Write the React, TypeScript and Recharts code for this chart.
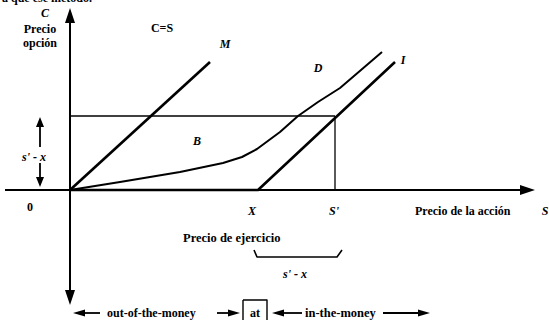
import React from 'react';
import { ComposedChart, Line, Scatter, XAxis, YAxis } from 'recharts';

// Units: origin at the axes crossing
const X_STRIKE = 18.8;
const S_PRIME = 26.5;
const C_LEVEL = 7.4;

const lineM = [ { x: 0, y: 0 }, { x: 14, y: 12.8 } ];
const lineI = [ { x: 0, y: 0 }, { x: X_STRIKE, y: 0 }, { x: 32.5, y: 12.8 } ];
const curveD = [
  { x: 0, y: 0 }, { x: 5, y: 0.8 }, { x: 11, y: 1.8 }, { x: 15.3, y: 2.7 },
  { x: 17.2, y: 3.3 }, { x: 18.7, y: 4.1 }, { x: 21, y: 5.8 }, { x: 22.8, y: 7.4 },
  { x: 24.8, y: 8.8 }, { x: 27, y: 10.2 }, { x: 31.2, y: 13.8 },
];
const hLine = [ { x: 0, y: C_LEVEL }, { x: S_PRIME, y: C_LEVEL } ];
const vLine = [ { x: S_PRIME, y: 0 }, { x: S_PRIME, y: C_LEVEL } ];
const axisV = [ { x: 0, y: -11 }, { x: 0, y: 17.3 } ];
const axisH = [ { x: -6.5, y: 0 }, { x: 45.5, y: 0 } ];
const leftUp = [ { x: -3, y: 4.3 }, { x: -3, y: 6.5 } ];
const leftDown = [ { x: -3, y: 2.7 }, { x: -3, y: 1.0 } ];
const bracket = [ { x: 18.4, y: -6.0 }, { x: 18.7, y: -6.7 }, { x: 26.7, y: -6.7 }, { x: 27.2, y: -6.0 } ];
const arrow1 = [ { x: 1.0, y: -12.3 }, { x: 3.0, y: -12.3 } ];
const arrow2 = [ { x: 14.7, y: -12.3 }, { x: 16.2, y: -12.3 } ];
const arrow3 = [ { x: 20.8, y: -12.3 }, { x: 23.2, y: -12.3 } ];
const arrow4 = [ { x: 31.3, y: -12.3 }, { x: 35.2, y: -12.3 } ];
const atBox = [ { x: 17.3, y: -11.0 }, { x: 19.7, y: -11.0 }, { x: 19.7, y: -13.4 }, { x: 17.3, y: -13.4 }, { x: 17.3, y: -11.0 } ];

const heads = [
  { x: 0, y: 18.2, dir: 'up', len: 15, w: 5 },
  { x: 0, y: -11.5, dir: 'down', len: 15, w: 5 },
  { x: 46.5, y: 0, dir: 'right', len: 15, w: 5 },
  { x: -3, y: 7.3, dir: 'up', len: 10, w: 4 },
  { x: -3, y: 0.3, dir: 'down', len: 10, w: 4 },
  { x: 0.3, y: -12.3, dir: 'left', len: 12, w: 3.5 },
  { x: 17.0, y: -12.3, dir: 'right', len: 12, w: 3.5 },
  { x: 20.2, y: -12.3, dir: 'left', len: 12, w: 3.5 },
  { x: 36.0, y: -12.3, dir: 'right', len: 12, w: 3.5 },
];

const labels = [
  { x: -6.8, y: 18.8, text: 'a que ese método.', anchor: 'start', size: 12, italic: false },
  { x: -2.5, y: 17.3, text: 'C', anchor: 'middle', size: 12, italic: true },
  { x: -3.0, y: 15.7, text: 'Precio', anchor: 'middle', size: 12, italic: false },
  { x: -3.0, y: 14.3, text: 'opción', anchor: 'middle', size: 12, italic: false },
  { x: 9.2, y: 15.8, text: 'C=S', anchor: 'middle', size: 12, italic: false },
  { x: 15.5, y: 14.2, text: 'M', anchor: 'middle', size: 12, italic: true },
  { x: 24.8, y: 11.8, text: 'D', anchor: 'middle', size: 12, italic: true },
  { x: 33.3, y: 12.6, text: 'I', anchor: 'middle', size: 12, italic: true },
  { x: 12.7, y: 4.5, text: 'B', anchor: 'middle', size: 12, italic: true },
  { x: -4.0, y: -2.1, text: '0', anchor: 'middle', size: 12, italic: false },
  { x: -3.6, y: 2.9, text: "s' - x", anchor: 'middle', size: 12, italic: true },
  { x: 18.2, y: -2.5, text: 'X', anchor: 'middle', size: 12, italic: true },
  { x: 26.4, y: -2.5, text: "S'", anchor: 'middle', size: 12, italic: true },
  { x: 34.5, y: -2.5, text: 'Precio de la acción', anchor: 'start', size: 12, italic: false },
  { x: 47.5, y: -2.5, text: 'S', anchor: 'middle', size: 12, italic: true },
  { x: 11.3, y: -5.2, text: 'Precio de ejercicio', anchor: 'start', size: 12.5, italic: false },
  { x: 22.5, y: -8.8, text: "s' - x", anchor: 'middle', size: 12, italic: true },
  { x: 3.7, y: -12.7, text: 'out-of-the-money', anchor: 'start', size: 12, italic: false },
  { x: 18.5, y: -12.7, text: 'at', anchor: 'middle', size: 12, italic: false },
  { x: 23.5, y: -12.7, text: 'in-the-money', anchor: 'start', size: 12.5, italic: false },
];

const FONT = '"Liberation Serif", "DejaVu Serif", serif';

const Head = (props: any) => {
  const { cx, cy, payload } = props;
  const { dir, len, w } = payload;
  let pts = '';
  if (dir === 'up') pts = `${cx},${cy} ${cx - w},${cy + len} ${cx + w},${cy + len}`;
  if (dir === 'down') pts = `${cx},${cy} ${cx - w},${cy - len} ${cx + w},${cy - len}`;
  if (dir === 'right') pts = `${cx},${cy} ${cx - len},${cy - w} ${cx - len},${cy + w}`;
  if (dir === 'left') pts = `${cx},${cy} ${cx + len},${cy - w} ${cx + len},${cy + w}`;
  return <polygon points={pts} fill="#000" />;
};

const Label = (props: any) => {
  const { cx, cy, payload } = props;
  return (
    <text x={cx} y={cy} textAnchor={payload.anchor} fontFamily={FONT} fontWeight="bold"
      fontStyle={payload.italic ? 'italic' : 'normal'} fontSize={payload.size} fill="#000">
      {payload.text}
    </text>
  );
};

const seg = (data: any[], w: number, key: string) => (
  <Line key={key} data={data} dataKey="y" type="linear" stroke="#000" strokeWidth={w}
    dot={false} activeDot={false} isAnimationActive={false} strokeLinejoin="round" />
);

export default function App() {
  return (
    <div style={{ position: 'absolute', left: 0, top: 0, width: 549, height: 320, background: '#fff' }}>
      <ComposedChart width={549} height={320} margin={{ top: 0, right: 0, bottom: 0, left: 0 }}>
        <XAxis dataKey="x" type="number" domain={[-7, 47.9]} allowDataOverflow hide />
        <YAxis type="number" domain={[-13, 19]} allowDataOverflow hide />
        {seg(axisV, 2, 'av')}
        {seg(axisH, 1.8, 'ah')}
        {seg(hLine, 1.3, 'hl')}
        {seg(vLine, 1.3, 'vl')}
        {seg(lineM, 2.6, 'm')}
        {seg(lineI, 2.6, 'i')}
        {seg(curveD, 2, 'd')}
        {seg(leftUp, 1.8, 'lu')}
        {seg(leftDown, 1.8, 'ld')}
        {seg(bracket, 1.6, 'br')}
        {seg(arrow1, 1.8, 'a1')}
        {seg(arrow2, 1.8, 'a2')}
        {seg(arrow3, 1.8, 'a3')}
        {seg(arrow4, 1.8, 'a4')}
        {seg(atBox, 1.4, 'box')}
        <Scatter data={heads} dataKey="y" shape={Head} isAnimationActive={false} />
        <Scatter data={labels} dataKey="y" shape={Label} isAnimationActive={false} />
      </ComposedChart>
    </div>
  );
}
